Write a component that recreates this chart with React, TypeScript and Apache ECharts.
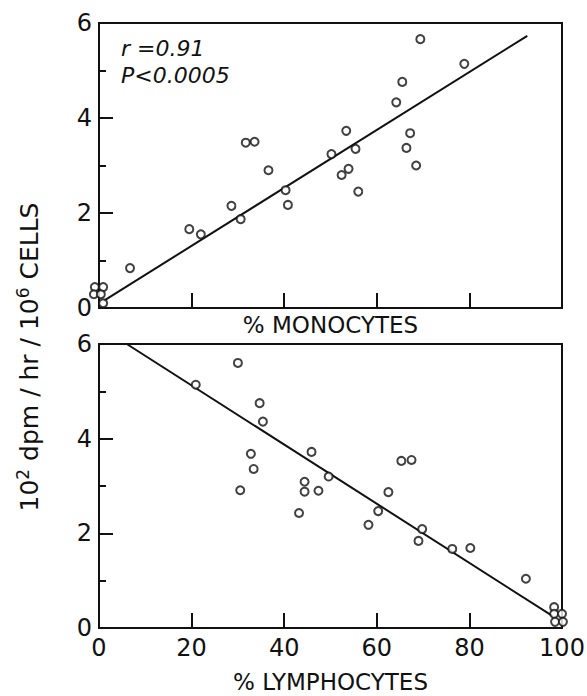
import React, { useEffect, useRef } from "react";
import * as echarts from "echarts";

// Upper panel: % monocytes vs activity
const monoX = [-0.9, 0.9, -1.1, 0.4, 0.9, 6.7, 19.5, 22, 28.6, 30.6, 31.7, 33.6, 36.6, 40.3, 40.8, 50.2, 52.4, 53.4, 53.9, 55.4, 56, 64.2, 65.5, 66.4, 67.2, 68.5, 69.4, 78.9];
const monoY = [0.44, 0.44, 0.29, 0.29, 0.1, 0.84, 1.66, 1.55, 2.15, 1.87, 3.48, 3.5, 2.9, 2.48, 2.17, 3.24, 2.8, 3.73, 2.93, 3.35, 2.45, 4.33, 4.76, 3.37, 3.68, 3.0, 5.66, 5.14];
const monoFitX = [1, 92.5];
const monoFitY = [0.15, 5.73];

// Lower panel: % lymphocytes vs activity
const lymphX = [20.9, 30, 30.5, 32.8, 33.4, 34.7, 35.4, 43.2, 44.4, 44.4, 45.9, 47.4, 49.6, 58.2, 60.3, 62.5, 65.3, 67.5, 69, 69.8, 76.3, 80.2, 92.2, 98.3, 98.3, 100, 98.5, 100.2];
const lymphY = [5.14, 5.6, 2.91, 3.68, 3.36, 4.75, 4.36, 2.43, 3.09, 2.88, 3.72, 2.9, 3.2, 2.18, 2.47, 2.87, 3.53, 3.55, 1.84, 2.09, 1.67, 1.69, 1.04, 0.44, 0.3, 0.3, 0.13, 0.13];
const lymphFitX = [6, 98];
const lymphFitY = [6, 0.25];

const xTicks = [0, 20, 40, 60, 80, 100];
const yTicks = [0, 2, 4, 6];

const FONT = "DejaVu Sans";
const INK = "#111";

function pairs(xs: number[], ys: number[]) {
  return xs.map((x, i) => [x, ys[i]]);
}

export default function App() {
  const ref = useRef<HTMLDivElement>(null);
  useEffect(() => {
    if (!ref.current) return;
    const chart = echarts.init(ref.current, undefined, { renderer: "svg" });
    const xAxisBase = (gridIndex: number, showLabels: boolean, name: string, nameGap: number) => ({
      type: "value",
      gridIndex,
      min: xTicks[0],
      max: xTicks[xTicks.length - 1],
      interval: 20,
      name,
      nameLocation: "middle",
      nameGap,
      nameTextStyle: { fontFamily: FONT, fontSize: 23, color: INK },
      axisLine: { show: true, lineStyle: { color: INK, width: 2 } },
      axisTick: { show: true, inside: true, length: 15, lineStyle: { color: INK, width: 2 } },
      axisLabel: {
        show: showLabels,
        margin: 8,
        fontFamily: FONT,
        fontSize: 24,
        color: INK,
        formatter: (v: number) => (xTicks.includes(v) ? String(v) : ""),
      },
      splitLine: { show: false },
    });
    const yAxisBase = (gridIndex: number) => ({
      type: "value",
      gridIndex,
      min: yTicks[0],
      max: yTicks[yTicks.length - 1],
      interval: 2,
      axisLine: { show: true, lineStyle: { color: INK, width: 2 } },
      axisTick: { show: true, inside: true, length: 14, lineStyle: { color: INK, width: 2 } },
      minorTick: { show: true, splitNumber: 2, length: 7, lineStyle: { color: INK, width: 2 } },
      minorSplitLine: { show: false },
      axisLabel: { margin: 7, fontFamily: FONT, fontSize: 24, color: INK },
      splitLine: { show: false },
    });
    const scatter = (idx: number, data: number[][]) => ({
      type: "scatter",
      xAxisIndex: idx,
      yAxisIndex: idx,
      data,
      symbol: "circle",
      symbolSize: 8,
      clip: false,
      z: 3,
      itemStyle: { color: "#fff", borderColor: INK, borderWidth: 2 },
    });
    const fit = (idx: number, data: number[][]) => ({
      type: "line",
      xAxisIndex: idx,
      yAxisIndex: idx,
      data,
      showSymbol: false,
      symbol: "none",
      z: 2,
      lineStyle: { color: INK, width: 2 },
    });
    chart.setOption({
      animation: false,
      backgroundColor: "#fff",
      grid: [
        { left: 99, top: 23, width: 463, height: 285, show: true, borderColor: INK, borderWidth: 2, backgroundColor: "transparent", containLabel: false, outerBoundsMode: "none" },
        { left: 99, top: 344, width: 463, height: 284, show: true, borderColor: INK, borderWidth: 2, backgroundColor: "transparent", containLabel: false, outerBoundsMode: "none" },
      ],
      xAxis: [xAxisBase(0, false, "% MONOCYTES", 5), xAxisBase(1, true, "% LYMPHOCYTES", 42)],
      yAxis: [yAxisBase(0), yAxisBase(1)],
      series: [
        fit(0, pairs(monoFitX, monoFitY)),
        scatter(0, pairs(monoX, monoY)),
        fit(1, pairs(lymphFitX, lymphFitY)),
        scatter(1, pairs(lymphX, lymphY)),
      ],
      graphic: [
        {
          type: "text",
          x: 121,
          y: 35,
          style: {
            text: "r =0.91\nP<0.0005",
            fontFamily: FONT,
            fontStyle: "italic",
            fontSize: 22,
            lineHeight: 27,
            fill: INK,
          },
        },
        {
          type: "text",
          x: 29,
          y: 357,
          rotation: Math.PI / 2,
          style: {
            text: "10{sup|2} dpm / hr / 10{sup|6} CELLS",
            fontFamily: FONT,
            fontSize: 25,
            fill: INK,
            align: "center",
            verticalAlign: "middle",
            rich: {
              sup: { fontSize: 17, fontFamily: FONT, fill: INK, verticalAlign: "top", padding: [0, 0, 12, 0] },
            },
          },
        },
      ],
    });
    return () => chart.dispose();
  }, []);
  return <div ref={ref} style={{ position: "fixed", left: 0, top: 0, width: 587, height: 696 }} />;
}
